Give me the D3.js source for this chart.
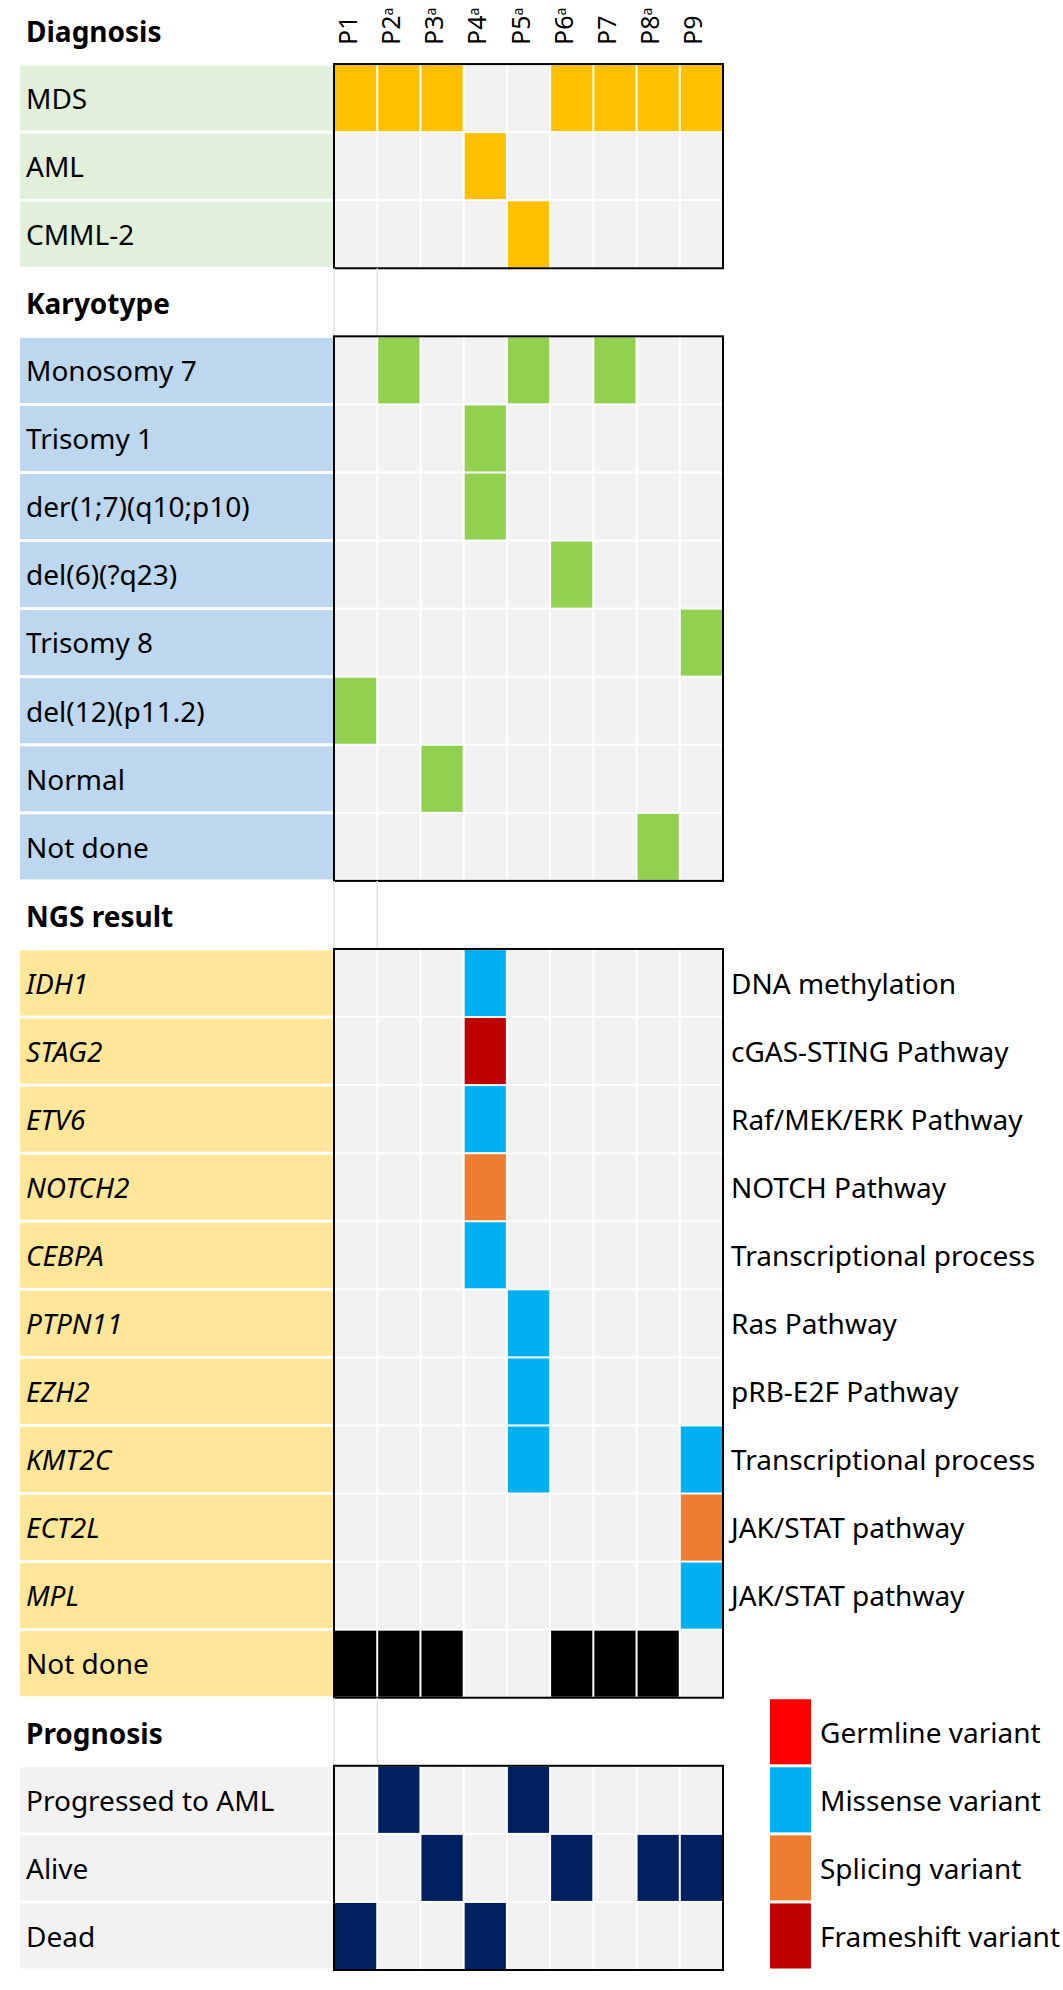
<!DOCTYPE html>
<html>
<head>
<meta charset="utf-8">
<script src="https://cdn.jsdelivr.net/npm/d3@7"></script>
<style>
  body { margin: 0; background: #fff; }
  svg text { font-family: "Noto Sans", "Open Sans", sans-serif; fill: #000; }
</style>
</head>
<body>
<svg id="chart" width="1063" height="1990"></svg>
<script>
// patients and superscript marks
const patients = ["P1", "P2", "P3", "P4", "P5", "P6", "P7", "P8", "P9"];
const patientMarks = ["", "a", "a", "a", "a", "a", "", "a", ""];

// Diagnosis
const diagnosisRows = ["MDS", "AML", "CMML-2"];
const diagnosisValues = [
  [1, 1, 1, 0, 0, 1, 1, 1, 1],
  [0, 0, 0, 1, 0, 0, 0, 0, 0],
  [0, 0, 0, 0, 1, 0, 0, 0, 0]
];

// Karyotype
const karyotypeRows = ["Monosomy 7", "Trisomy 1", "der(1;7)(q10;p10)", "del(6)(?q23)",
  "Trisomy 8", "del(12)(p11.2)", "Normal", "Not done"];
const karyotypeValues = [
  [0, 1, 0, 0, 1, 0, 1, 0, 0],
  [0, 0, 0, 1, 0, 0, 0, 0, 0],
  [0, 0, 0, 1, 0, 0, 0, 0, 0],
  [0, 0, 0, 0, 0, 1, 0, 0, 0],
  [0, 0, 0, 0, 0, 0, 0, 0, 1],
  [1, 0, 0, 0, 0, 0, 0, 0, 0],
  [0, 0, 1, 0, 0, 0, 0, 0, 0],
  [0, 0, 0, 0, 0, 0, 0, 1, 0]
];

// NGS result (M missense, F frameshift, S splicing, N not done)
const ngsGenes = ["IDH1", "STAG2", "ETV6", "NOTCH2", "CEBPA", "PTPN11", "EZH2", "KMT2C", "ECT2L", "MPL", "Not done"];
const ngsPathways = ["DNA methylation", "cGAS-STING Pathway", "Raf/MEK/ERK Pathway", "NOTCH Pathway",
  "Transcriptional process", "Ras Pathway", "pRB-E2F Pathway", "Transcriptional process",
  "JAK/STAT pathway", "JAK/STAT pathway", ""];
const ngsValues = [
  [0, 0, 0, "M", 0, 0, 0, 0, 0],
  [0, 0, 0, "F", 0, 0, 0, 0, 0],
  [0, 0, 0, "M", 0, 0, 0, 0, 0],
  [0, 0, 0, "S", 0, 0, 0, 0, 0],
  [0, 0, 0, "M", 0, 0, 0, 0, 0],
  [0, 0, 0, 0, "M", 0, 0, 0, 0],
  [0, 0, 0, 0, "M", 0, 0, 0, 0],
  [0, 0, 0, 0, "M", 0, 0, 0, "M"],
  [0, 0, 0, 0, 0, 0, 0, 0, "S"],
  [0, 0, 0, 0, 0, 0, 0, 0, "M"],
  ["N", "N", "N", 0, 0, "N", "N", "N", 0]
];

// Prognosis
const prognosisRows = ["Progressed to AML", "Alive", "Dead"];
const prognosisValues = [
  [0, 1, 0, 0, 1, 0, 0, 0, 0],
  [0, 0, 1, 0, 0, 1, 0, 1, 1],
  [1, 0, 0, 1, 0, 0, 0, 0, 0]
];

// legend
const legendLabels = ["Germline variant", "Missense variant", "Splicing variant", "Frameshift variant"];
const legendKeys = ["G", "M", "S", "F"];

const variantColor = { G: "#ff0000", M: "#00b0f0", S: "#ed7d31", F: "#c00000", N: "#000000" };
const empty = "#f2f2f2";

const sections = [
  { title: "Diagnosis", rows: diagnosisRows, values: diagnosisValues, bg: "#e2efda", on: "#ffc000" },
  { title: "Karyotype", rows: karyotypeRows, values: karyotypeValues, bg: "#bdd7ee", on: "#92d050" },
  { title: "NGS result", rows: ngsGenes, values: ngsValues, bg: "#ffe699", italic: true, right: ngsPathways },
  { title: "Prognosis", rows: prognosisRows, values: prognosisValues, bg: "#f2f2f2", on: "#002060" }
];

// one band per line: header line + data lines for each section
let idx = 0;
sections.forEach(s => { s.head = idx++; s.start = idx; idx += s.rows.length; });
const nLines = idx;

const svg = d3.select("#chart");
const x = d3.scaleBand().domain(patients).range([334, 723]);
const y = d3.scaleBand().domain(d3.range(nLines)).range([-4, 1970]);
const bw = x.bandwidth(), bh = y.bandwidth();
const labelX = 20, labelW = 334 - 20;
const fs = 28;

// column headers (rotated, baseline on the column centre)
const head = svg.append("g").selectAll("text").data(patients).join("text")
  .attr("transform", d => `translate(${x(d) + bw / 2 + 1},45) rotate(-90)`)
  .style("font-size", "25px");
head.append("tspan").text(d => d);
head.append("tspan").text((d, i) => patientMarks[i])
  .attr("dy", "-0.5em").style("font-size", "14px");

sections.forEach((s, si) => {
  const g = svg.append("g");

  // faint guide lines in the header line between sections
  if (si > 0) {
    g.selectAll("line.guide").data([patients[0], patients[1]]).join("line")
      .attr("x1", d => x(d)).attr("x2", d => x(d))
      .attr("y1", y(s.head)).attr("y2", y(s.head) + bh)
      .attr("stroke", "#e3e3e3").attr("stroke-width", 1.5);
  }

  g.append("text")
    .attr("x", 26).attr("y", y(s.head) + bh / 2 + 2)
    .attr("dy", "0.35em")
    .style("font-size", fs + "px").style("font-weight", "bold")
    .text(s.title);

  const rowG = g.selectAll("g.row").data(s.rows).join("g")
    .attr("transform", (d, i) => `translate(0,${y(s.start + i)})`);

  rowG.append("rect")
    .attr("x", labelX).attr("y", 1.5)
    .attr("width", labelW).attr("height", bh - 3)
    .attr("fill", s.bg);

  rowG.append("text")
    .attr("x", 26).attr("y", bh / 2 + 1)
    .attr("dy", "0.35em")
    .style("font-size", fs + "px")
    .style("font-style", (d, i) => s.italic && d !== "Not done" ? "italic" : "normal")
    .text(d => d);

  rowG.each(function (d, i) {
    d3.select(this).selectAll("rect.cell").data(s.values[i]).join("rect")
      .attr("class", "cell")
      .attr("x", (v, j) => x(patients[j]) + 1)
      .attr("y", 1)
      .attr("width", bw - 2).attr("height", bh - 2)
      .attr("fill", v => v === 0 ? empty : (typeof v === "string" ? variantColor[v] : s.on));
  });

  if (s.right) {
    rowG.append("text")
      .attr("x", 731).attr("y", bh / 2 + 1)
      .attr("dy", "0.35em")
      .style("font-size", fs + "px")
      .text((d, i) => s.right[i]);
  }

  g.append("rect")
    .attr("x", x(patients[0])).attr("y", y(s.start))
    .attr("width", bw * patients.length).attr("height", bh * s.rows.length)
    .attr("fill", "none").attr("stroke", "#000").attr("stroke-width", 2);
});

// legend next to the prognosis block
const prog = sections[3];
const leg = svg.append("g").selectAll("g").data(legendLabels).join("g")
  .attr("transform", (d, i) => `translate(770,${y(prog.head + i)})`);
leg.append("rect")
  .attr("x", 0).attr("y", 1.5).attr("width", 41).attr("height", bh - 3)
  .attr("fill", (d, i) => variantColor[legendKeys[i]]);
leg.append("text")
  .attr("x", 50).attr("y", bh / 2 + 1).attr("dy", "0.35em")
  .style("font-size", fs + "px")
  .text(d => d);
</script>
</body>
</html>
